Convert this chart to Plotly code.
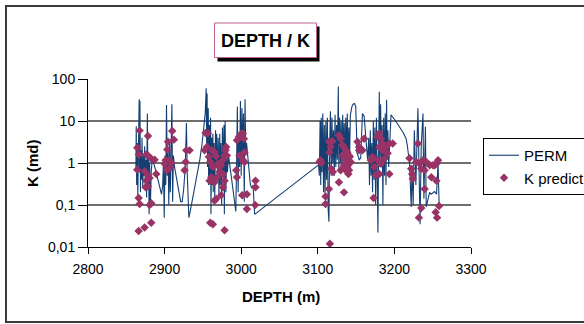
import plotly.graph_objects as go

# ---------------- data ----------------
perm_depth = [
    2862.5, 2863.0, 2863.5, 2864.5, 2865.0, 2866.0, 2866.8, 2867.3, 2867.8, 2868.5,
    2869.0, 2870.0, 2870.5, 2871.5, 2872.5, 2873.0, 2874.0, 2874.8, 2875.5, 2876.5,
    2877.5, 2878.3, 2879.0, 2879.8, 2880.5, 2881.5, 2882.5, 2884.0, 2886.0, 2888.0,
    2890.0, 2892.0, 2894.0, 2896.0, 2897.5, 2898.5, 2899.5, 2900.5, 2901.5, 2902.5,
    2903.5, 2904.5, 2905.5, 2906.5, 2907.5, 2909.5, 2910.5, 2911.5, 2913.0, 2915.0,
    2917.0, 2919.0, 2921.0, 2923.0, 2925.0, 2927.0, 2928.5, 2929.5, 2930.5, 2931.7,
    2934.0, 2937.0, 2940.0, 2943.0, 2946.0, 2949.0, 2951.0, 2953.0, 2954.3, 2955.0,
    2955.5, 2956.0, 2957.0, 2957.5, 2958.5, 2959.0, 2960.0, 2960.5, 2961.5, 2962.0,
    2963.0, 2963.5, 2964.5, 2965.5, 2966.5, 2967.0, 2968.0, 2969.0, 2970.0, 2971.0,
    2972.0, 2972.5, 2973.5, 2974.5, 2975.5, 2976.5, 2977.5, 2978.0, 2979.0, 2980.0,
    2981.0, 2982.0, 2983.5, 2985.0, 2987.0, 2989.0, 2991.0, 2993.0, 2994.0, 2995.0,
    2996.0, 2997.0, 2998.0, 2999.0, 3000.0, 3001.0, 3002.0, 3003.0, 3004.0, 3005.0,
    3006.0, 3007.0, 3008.5, 3010.0, 3012.0, 3014.0, 3015.5, 3017.5,
    3101.0, 3102.0, 3103.0, 3103.8, 3104.5, 3105.5, 3106.5, 3107.5, 3108.5, 3109.5,
    3110.5, 3111.5, 3112.5, 3113.5, 3114.5, 3115.5, 3116.5, 3117.5, 3118.5, 3119.5,
    3120.5, 3121.5, 3122.5, 3123.5, 3124.5, 3125.5, 3126.8, 3127.5, 3128.5, 3129.5,
    3130.5, 3131.5, 3132.5, 3133.5, 3134.5, 3135.5, 3136.5, 3137.5, 3138.5, 3139.5,
    3140.5, 3141.5, 3142.5, 3144.5, 3146.0, 3148.0, 3149.5, 3150.5, 3151.0, 3152.5,
    3154.0, 3156.0, 3158.3, 3160.5, 3163.6, 3165.0, 3166.5, 3167.5, 3168.5, 3169.5,
    3170.5, 3171.5, 3172.5, 3173.5, 3174.5, 3175.5, 3176.5, 3177.5, 3178.5, 3179.5,
    3180.3, 3181.0, 3182.0, 3183.0, 3184.0, 3185.0, 3186.0, 3187.0, 3188.0, 3189.0,
    3189.8, 3190.5, 3191.5, 3192.5, 3194.0, 3195.6, 3200.0, 3206.6, 3211.0, 3215.3,
    3217.0, 3219.7, 3222.0, 3223.0, 3224.5, 3226.0, 3228.0, 3230.7, 3232.0, 3233.5,
    3235.0, 3237.3, 3238.5, 3240.5, 3241.5, 3243.9, 3246.0, 3248.0, 3250.5, 3252.5,
    3255.0, 3257.0, 3258.5, 3259.5,
]
perm_k = [
    0.7, 7.5, 0.3, 3.0, 0.15, 5.0, 33, 0.6, 30, 0.2,
    2.0, 0.4, 4.0, 0.25, 1.5, 0.5, 2.5, 0.3, 1.2, 0.15,
    15, 0.3, 1.5, 0.06, 1.0, 0.1, 0.6, 1.3, 1.0, 0.7,
    0.5, 0.35, 0.22, 0.18, 0.3, 1.0, 0.05, 1.5, 0.3, 24,
    0.5, 2.0, 0.1, 3.0, 0.2, 25, 0.12, 1.5, 0.8, 0.5,
    0.3, 0.2, 0.12, 0.12, 0.25, 0.8, 9, 0.6, 0.15, 0.05,
    0.08, 0.15, 0.3, 0.6, 1.2, 3.0, 6.0, 15, 60, 2.0,
    45, 0.8, 20, 0.3, 8, 0.5, 12, 0.06, 4, 0.3,
    5, 0.2, 3, 0.15, 6, 0.8, 5, 0.4, 4, 0.15,
    5, 0.3, 3, 0.1, 7, 0.5, 8, 0.06, 10, 0.2,
    2, 0.6, 1.5, 0.9, 0.5, 0.3, 0.15, 0.07, 1.0, 22,
    0.2, 5, 0.8, 30, 0.5, 20, 1.0, 15, 0.12, 33,
    1.5, 3, 1.5, 0.6, 0.3, 0.25, 0.3, 0.06,
    0.9, 0.5, 10, 0.3, 12, 0.6, 15, 0.2, 8, 0.15,
    10, 0.4, 12, 0.08, 0.04, 3, 17, 0.5, 12, 1.0,
    6, 0.5, 14, 0.8, 8, 1.2, 66, 0.6, 12, 1.0,
    10, 0.6, 14, 1.5, 9, 0.7, 12, 1.0, 15, 0.9,
    7, 1.2, 14, 22, 25, 26, 22, 6, 1.8, 1.5,
    1.2, 1.3, 15, 13, 2.4, 1.2, 4, 0.3, 6, 0.5,
    3, 0.2, 10, 0.4, 7, 0.1, 12, 0.5, 0.022, 3,
    50, 0.8, 25, 1.0, 8, 0.1, 12, 0.5, 15, 0.3,
    32, 1.2, 6, 0.8, 3, 14, 11, 7.3, 5.5, 3.8,
    2.5, 1.0, 0.09, 0.9, 0.1, 6, 0.3, 20, 0.6, 0.035,
    2.4, 15, 0.14, 7.3, 0.09, 0.14, 0.2, 0.18, 0.2, 0.21,
    0.18, 1.0, 0.087, 0.09,
]

kpred_depth = [
    2867.4, 2864.3, 2866.5, 2864.3, 2878.3, 2876.1, 2878.3, 2882.6, 2873.9, 2878.3,
    2880.4, 2875.2, 2878.3, 2876.1, 2882.6, 2880.4, 2866.1, 2867.4, 2866.1, 2873.9,
    2882.6, 2889.1, 2887.0, 2910.0, 2904.4, 2903.5, 2912.2, 2901.3, 2905.7, 2900.0,
    2903.0, 2907.4, 2908.7, 2928.3, 2932.6, 2927.4, 2926.1, 2953.5, 2956.5, 2955.2,
    2952.2, 2957.8, 2959.6, 2962.2, 2965.2, 2967.4, 2960.9, 2958.7, 2965.2, 2968.7,
    2971.7, 2973.9, 2976.1, 2978.3, 2980.4, 2979.6, 2981.3, 2976.1, 2978.3, 2976.1,
    2973.9, 2967.4, 2965.2, 2959.6, 2963.0, 2978.3, 2971.7, 2969.6, 2963.0, 2994.4,
    2997.0, 3000.0, 3002.2, 3003.5, 2997.8, 3004.3, 3002.2, 2993.5, 2994.4, 3004.3,
    3001.3, 3007.4, 3007.4, 3018.7, 3018.7, 3018.3,
    3103.5, 3102.2, 3104.8, 3114.5, 3116.7, 3118.9, 3115.4, 3117.5, 3119.7, 3114.5,
    3110.1, 3110.1, 3115.8, 3127.6, 3129.8, 3132.0, 3134.2, 3136.4, 3138.6, 3140.8,
    3136.4, 3134.2, 3138.6, 3140.8, 3136.4, 3139.9, 3129.8, 3127.6, 3134.2, 3140.8,
    3143.0, 3141.7, 3132.0, 3151.8, 3153.9, 3156.1, 3158.3, 3160.5, 3153.9, 3169.3,
    3171.5, 3173.7, 3175.9, 3172.8, 3178.1, 3180.3, 3182.5, 3184.6, 3180.3, 3184.6,
    3189.0, 3191.2, 3193.4, 3197.8, 3186.8, 3182.5, 3178.1, 3180.3, 3193.4, 3219.7,
    3221.9, 3223.2, 3224.1, 3230.7, 3228.5, 3232.9, 3235.1, 3237.3, 3239.5, 3241.7,
    3246.1, 3248.2, 3250.4, 3252.6, 3254.8, 3257.0, 3254.8, 3239.5, 3235.1, 3232.0,
    3253.9, 3255.7, 3258.3,
]
kpred_k = [
    5.9, 2.3, 1.6, 0.69, 4.4, 1.6, 1.5, 1.27, 0.64, 0.51,
    0.44, 0.265, 0.275, 0.38, 0.11, 0.10, 0.147, 0.106, 0.024, 0.029,
    0.038, 0.55, 1.2, 5.8, 3.2, 2.1, 3.6, 1.16, 1.16, 0.96,
    0.67, 0.77, 1.0, 2.0, 2.0, 1.06, 0.67, 5.2, 5.1, 2.4,
    2.0, 1.4, 1.06, 2.0, 1.8, 1.45, 0.46, 0.38, 0.35, 0.46,
    0.61, 0.88, 1.16, 1.5, 2.4, 2.0, 1.5, 0.55, 0.38, 0.265,
    0.17, 0.14, 0.127, 0.038, 0.035, 0.025, 0.80, 0.96, 0.80, 3.5,
    4.2, 4.9, 5.1, 3.8, 1.5, 1.8, 1.16, 0.67, 0.46, 1.06,
    0.17, 0.18, 0.08, 0.38, 0.265, 0.10,
    1.16, 1.06, 1.0, 3.2, 2.4, 3.3, 1.8, 0.73, 0.61, 0.24,
    0.16, 0.106, 0.012, 4.6, 3.8, 2.7, 2.4, 2.0, 1.8, 1.5,
    1.16, 0.88, 0.80, 0.96, 0.67, 0.55, 0.67, 0.35, 0.20, 0.67,
    1.06, 1.4, 1.5, 3.2, 2.4, 2.2, 2.0, 3.8, 2.0, 1.16,
    1.4, 0.80, 0.51, 0.147, 4.2, 5.1, 3.8, 2.9, 2.4, 2.0,
    2.4, 1.7, 2.9, 2.9, 1.27, 0.96, 1.16, 0.55, 0.55, 1.3,
    0.73, 0.55, 0.42, 2.9, 1.06, 0.96, 0.73, 1.16, 0.67, 1.06,
    0.88, 0.46, 0.88, 0.88, 0.96, 1.16, 0.38, 0.24, 0.085, 0.05,
    0.067, 0.05, 0.095,
]
assert len(perm_depth) == len(perm_k)
assert len(kpred_depth) == len(kpred_k)

x_ticks = [2800, 2900, 3000, 3100, 3200, 3300]
y_tickvals = [0.01, 0.1, 1, 10, 100]
y_ticktext = ["0,01", "0,1", "1", "10", "100"]

# ---------------- layout helpers (pixel -> paper) ----------------
W, H = 584, 324
L, R, T, B = 88, 113, 79, 77
PW, PH = W - L - R, H - T - B


def px(x):
    return (x - L) / PW


def py(y):
    return (H - B - y) / PH


FONT = "Liberation Sans, Arial, sans-serif"

fig = go.Figure()
fig.add_trace(go.Scatter(
    x=perm_depth, y=perm_k, mode="lines", name="PERM",
    line=dict(color="#143f73", width=1.1), legendgroup="a",
))
fig.add_trace(go.Scatter(
    x=kpred_depth, y=kpred_k, mode="markers", name="K predict",
    marker=dict(symbol="diamond", size=6.5, color="#993366", line=dict(width=0)),
    cliponaxis=False, legendgroup="b",
))

shapes = [
    # outer chart border
    dict(type="rect", xref="paper", yref="paper", x0=px(6), x1=px(600), y0=py(6), y1=py(322),
         line=dict(color="#3a3a3a", width=2), fillcolor="rgba(0,0,0,0)", layer="below"),
    # title shadow
    dict(type="rect", xref="paper", yref="paper", x0=px(217.5), x1=px(319.5), y0=py(26.5), y1=py(61.5),
         line=dict(width=0), fillcolor="black", layer="above"),
    # title box
    dict(type="rect", xref="paper", yref="paper", x0=px(214.5), x1=px(316.5), y0=py(23), y1=py(57.5),
         line=dict(color="#c0628f", width=1), fillcolor="white", layer="above"),
]

annotations = [
    dict(text="<b>DEPTH / K</b>", xref="paper", yref="paper", x=px(265.5), y=py(41),
         showarrow=False, font=dict(family=FONT, size=18, color="black"),
         xanchor="center", yanchor="middle"),
    dict(text="<b>DEPTH (m)</b>", xref="paper", yref="paper", x=px(281), y=py(296),
         showarrow=False, font=dict(family=FONT, size=15, color="black"),
         xanchor="center", yanchor="middle"),
    dict(text="<b>K (md)</b>", xref="paper", yref="paper", x=px(32), y=py(163),
         showarrow=False, textangle=-90, font=dict(family=FONT, size=15, color="black"),
         xanchor="center", yanchor="middle"),
]

fig.update_layout(
    width=W, height=H,
    margin=dict(l=L, r=R, t=T, b=B, autoexpand=False),
    paper_bgcolor="white", plot_bgcolor="white",
    font=dict(family=FONT, size=14, color="black"),
    shapes=shapes, annotations=annotations,
    showlegend=True,
    legend=dict(
        x=px(483), y=py(138), xanchor="left", yanchor="top",
        bordercolor="black", borderwidth=1, bgcolor="white",
        font=dict(family=FONT, size=15, color="black"),
        tracegroupgap=0, itemwidth=30,
    ),
    xaxis=dict(
        range=[2800, 3300], tickvals=x_ticks, ticktext=[str(v) for v in x_ticks],
        showgrid=False, zeroline=False, showline=True, linecolor="black", linewidth=1,
        ticks="outside", ticklen=6, tickcolor="black", tickfont=dict(size=14),
        ticklabelstandoff=3,
    ),
    yaxis=dict(
        type="log", range=[-2, 2], tickvals=y_tickvals, ticktext=y_ticktext,
        showgrid=True, gridcolor="#6e6e6e", gridwidth=1.5, zeroline=False,
        showline=True, linecolor="black", linewidth=1,
        ticks="outside", ticklen=9, tickcolor="black", tickfont=dict(size=14),
    ),
)

fig.write_html("out.html")
